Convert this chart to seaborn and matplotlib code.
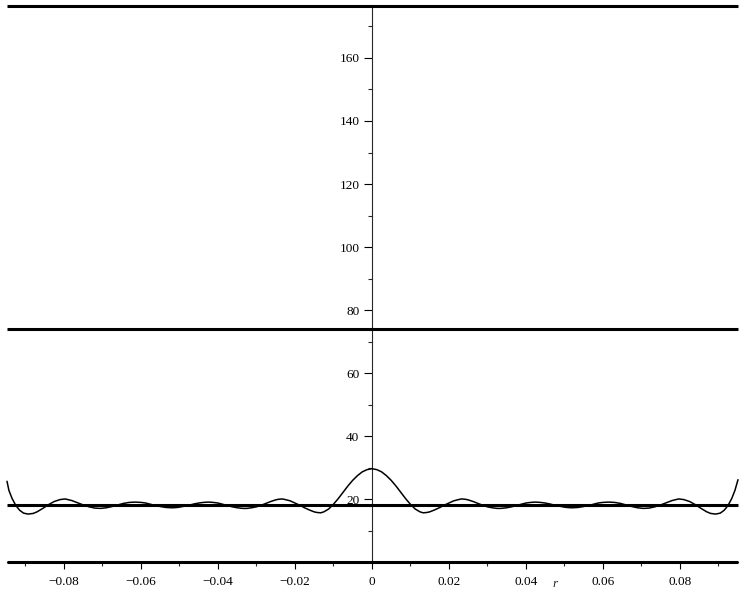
import seaborn as sns
import matplotlib.pyplot as plt
from matplotlib.ticker import MultipleLocator
import pandas as pd

# %% Data (right half; left half is its mirror image in the picture)
r_right = [0.0, 0.00125, 0.0025, 0.00375, 0.005, 0.00625, 0.0075, 0.00875, 0.010,
           0.01125, 0.0125, 0.0133, 0.01425, 0.015, 0.01625, 0.0175, 0.01875, 0.020,
           0.02125, 0.0225, 0.0233, 0.02425, 0.025, 0.02625, 0.0275, 0.02875, 0.030,
           0.03125, 0.0325, 0.0335, 0.035, 0.03625, 0.0375, 0.03875, 0.040, 0.04125,
           0.0425, 0.04375, 0.045, 0.04625, 0.0475, 0.04875, 0.050, 0.051, 0.052,
           0.0535, 0.055, 0.05625, 0.0575, 0.05875, 0.060, 0.0615, 0.063, 0.0645,
           0.066, 0.0675, 0.069, 0.0705, 0.072, 0.0735, 0.075, 0.0765, 0.078, 0.0797,
           0.081, 0.0825, 0.084, 0.0855, 0.087, 0.088, 0.0893, 0.0905, 0.0915, 0.0925,
           0.0935, 0.0943, 0.0951]
f_right = [29.7, 29.4, 28.7, 27.5, 26.0, 24.2, 22.2, 20.2, 18.4,
           16.9, 16.0, 15.7, 15.8, 16.0, 16.6, 17.3, 18.1, 18.8,
           19.5, 19.9, 20.1, 20.0, 19.8, 19.3, 18.7, 18.1, 17.6,
           17.3, 17.1, 17.1, 17.3, 17.6, 18.0, 18.4, 18.8, 19.0,
           19.1, 19.0, 18.8, 18.5, 18.1, 17.8, 17.5, 17.35, 17.3,
           17.4, 17.7, 18.0, 18.4, 18.8, 19.0, 19.1, 19.0, 18.7,
           18.2, 17.7, 17.3, 17.1, 17.2, 17.6, 18.2, 18.9, 19.6, 20.1,
           19.9, 19.3, 18.3, 17.1, 16.0, 15.5, 15.3, 15.6, 16.5, 18.0,
           20.3, 22.8, 26.2]
r_left = [-0.0948, -0.0943, -0.0935, -0.0925, -0.0915, -0.0905, -0.0893, -0.088, -0.087,
          -0.0855, -0.084, -0.0825, -0.081, -0.0797, -0.078, -0.0765, -0.075, -0.0735,
          -0.072, -0.0705, -0.069, -0.0675, -0.066, -0.0645, -0.063, -0.0615, -0.060,
          -0.05875, -0.0575, -0.05625, -0.055, -0.0535, -0.052, -0.051, -0.050, -0.04875,
          -0.0475, -0.04625, -0.045, -0.04375, -0.0425, -0.04125, -0.040, -0.03875,
          -0.0375, -0.03625, -0.035, -0.0335, -0.0325, -0.03125, -0.030, -0.02875,
          -0.0275, -0.02625, -0.025, -0.02425, -0.0233, -0.0225, -0.02125, -0.020,
          -0.01875, -0.0175, -0.01625, -0.015, -0.01425, -0.0133, -0.0125, -0.01125,
          -0.010, -0.00875, -0.0075, -0.00625, -0.005, -0.00375, -0.0025, -0.00125]
f_left = [25.7, 22.8, 20.3, 18.0, 16.5, 15.6, 15.3, 15.5, 16.0,
          17.1, 18.3, 19.3, 19.9, 20.1, 19.6, 18.9, 18.2, 17.6,
          17.2, 17.1, 17.3, 17.7, 18.2, 18.7, 19.0, 19.1, 19.0,
          18.8, 18.4, 18.0, 17.7, 17.4, 17.3, 17.35, 17.5, 17.8,
          18.1, 18.5, 18.8, 19.0, 19.1, 19.0, 18.8, 18.4,
          18.0, 17.6, 17.3, 17.1, 17.1, 17.3, 17.6, 18.1,
          18.7, 19.3, 19.8, 20.0, 20.1, 19.9, 19.5, 18.8,
          18.1, 17.3, 16.6, 16.0, 15.8, 15.7, 16.0, 16.9,
          18.4, 20.2, 22.2, 24.2, 26.0, 27.5, 28.7, 29.4]
levels = [0.0, 18.2, 74.0, 176.5]

x_ticks = [-0.08, -0.06, -0.04, -0.02, 0.0, 0.02, 0.04, 0.06, 0.08]
x_labels = ['\u22120.08', '\u22120.06', '\u22120.04', '\u22120.02', '0',
            '0.02', '0.04', '0.06', '0.08']
y_ticks = [20, 40, 60, 80, 100, 120, 140, 160]

df = pd.DataFrame({'r': r_left + r_right, 'f': f_left + f_right})

# %% Plot
sns.set_style('white')
plt.rcParams['font.family'] = ['Liberation Serif', 'DejaVu Serif']

fig = plt.figure(figsize=(7.44, 6.08), dpi=100)
ax = fig.add_axes([7 / 744, 45.7 / 608, 731 / 744, 557 / 608])

xlo, xhi = -0.0948, 0.0951
ax.hlines(levels, xlo, xhi, colors='black', linewidth=2.2, clip_on=False, zorder=3)
sns.lineplot(data=df, x='r', y='f', ax=ax, color='black', linewidth=1.1,
             sort=True, clip_on=False, zorder=4)

ax.set_xlim(xlo, xhi)
ax.set_ylim(0, 176.7)

# Axes through origin, Maple style
for side in ['top', 'right']:
    ax.spines[side].set_visible(False)
ax.spines['left'].set_position(('data', 0))
ax.spines['left'].set_linewidth(0.8)
ax.spines['bottom'].set_linewidth(0.8)

ax.set_xticks(x_ticks)
ax.set_xticklabels(x_labels)
ax.set_yticks(y_ticks)
ax.xaxis.set_minor_locator(MultipleLocator(0.01))
ax.yaxis.set_minor_locator(MultipleLocator(10))
ax.tick_params(axis='both', which='major', direction='out', length=5, width=0.8,
               labelsize=9.5, colors='black')
ax.tick_params(axis='y', which='major', length=6, pad=3)
ax.tick_params(axis='x', which='major', pad=5)
ax.tick_params(axis='both', which='minor', direction='out', length=3, width=0.8)
ax.tick_params(left=True, bottom=True, which='both')

ax.set_xlabel('')
ax.set_ylabel('')
fig.text(555 / 744, 1 - 584 / 608, 'r', style='italic', fontsize=9.5,
         ha='center', va='center')

fig.savefig('out.png', dpi=100)
